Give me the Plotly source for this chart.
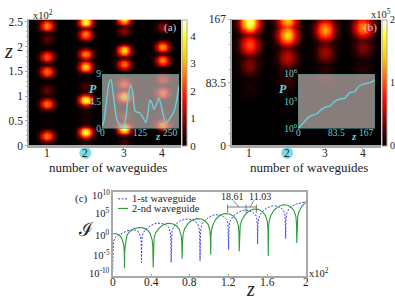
import numpy as np
import plotly.graph_objects as go

W, H = 395, 302
FONT = "Liberation Serif"
TEAL = "#66d2d9"
AXC = "#a8a8a8"

# Panel (a): bright spots, (z, intensity) per waveguide
a_peaks = {
    1: [(2.43, 3.0), (2.14, 0.7), (1.79, 2.5), (1.49, 2.8), (1.13, 0.8), (0.84, 2.8), (0.47, 0.1), (0.19, 2.8)],
    2: [(2.50, 4.2), (2.25, 2.8), (1.85, 2.8), (1.59, 3.5), (1.19, 0.6), (0.93, 4.3), (0.69, 0.3), (0.52, 0.3), (0.28, 4.2), (0.05, 0.4)],
    3: [(2.54, 3.6), (2.32, 1.0), (1.93, 3.6), (1.66, 2.6), (1.26, 2.2), (1.00, 3.7), (0.60, 1.0), (0.34, 4.5), (0.08, 0.5)],
    4: [(2.40, 1.0), (2.01, 3.0), (1.72, 2.8), (1.34, 1.6), (1.07, 2.6), (0.67, 0.4), (0.42, 3.0)],
}
# Panel (b): bright spots, (z, intensity) per waveguide
b_peaks = {
    1: [(163, 1.95), (135, 1.0), (107, 0.4), (78, 0.1)],
    2: [(170, 1.4), (148, 1.5), (118, 0.6), (88, 0.2), (60, 0.03)],
    3: [(152, 1.3), (122, 0.5), (92, 0.2)],
    4: [(158, 1.2), (129, 0.4), (100, 0.15)],
}
# Spot fall-off per grid cell away from its centre
fall_x = [1, .93, .78, .58, .38, .22, .11, .05, .02]
fall_z = [1, .95, .82, .63, .42, .24, .12, .05, .02]

# Tick labels
wave_ticks = [1, 2, 3, 4]
c_x_ticks = [0, .4, .8, 1.2, 1.6, 2]
c_x_text = ["0", "0.4", "0.8", "1.2", "1.6", "2"]
c_y_ticks = [1e-10, 1e-5, 1, 1e5, 1e10]
c_y_text = ["10<sup>-10</sup>", "10<sup>-5</sup>", "10<sup>0</sup>", "10<sup>5</sup>", "10<sup>10</sup>"]

# Inset of (a)
inset_a_z = [0, 6, 11, 17, 23, 29, 35, 42, 50, 60, 69, 78, 85, 93, 100, 107, 114, 122, 134, 142, 149, 156, 162, 169, 176, 184, 192, 199, 208, 218, 231, 240, 250]
inset_a_p = [0.4, 1.2, 3.0, 5.5, 7.6, 8.1, 6.2, 3.4, 1.2, 0.5, 0.2, 2.0, 5.2, 7.2, 5.8, 3.0, 2.7, 2.6, 1.7, 1.0, 2.5, 4.7, 4.2, 3.2, 3.9, 5.0, 3.8, 2.2, 0.9, 1.5, 2.5, 4.0, 7.2]
# Inset of (b), log10 of P
inset_b_z = [0, 14.5, 25, 40, 51, 62, 69, 80, 91, 102, 112, 123, 131, 145, 154, 167]
inset_b_logp = [0, 0.78, 1.34, 1.6, 2.1, 2.4, 2.47, 3.0, 3.25, 3.35, 3.95, 4.06, 4.6, 4.94, 5.0, 5.37]

# Panel (c), log10 of intensity
blue_z = [0, .002, .01, .03, .06, .1, .15, .2, .24, .27, .29, .297, .3, .303, .31, .33, .36, .4, .45, .5, .55, .58, .597, .603, .606,
          .609, .615, .63, .66, .7, .755, .81, .85, .88, .895, .902, .905, .908, .915, .93, .96, 1.0, 1.05, 1.1, 1.15, 1.18, 1.193, 1.197, 1.2,
          1.203, 1.21, 1.23, 1.26, 1.3, 1.35, 1.4, 1.45, 1.48, 1.492, 1.497, 1.5, 1.503, 1.51, 1.53, 1.56, 1.6, 1.65, 1.7, 1.74, 1.77, 1.783, 1.787, 1.79,
          1.793, 1.8, 1.82, 1.85, 1.9, 1.95, 2]
blue_log = [-10, -4, -1.8, -.8, -.3, .1, .7, .9, .85, .4, -.6, -2, -6.8, -2, -.3, .7, 1.4, 2.0, 2.5, 2.5, 2.2, 1.6, .4, -1.2, -6.8,
            -1, .6, 1.6, 2.4, 3.1, 3.5, 3.4, 3.0, 2.4, 1.4, -.4, -6.4, -.4, 1.4, 2.5, 3.3, 4.0, 4.5, 4.5, 4.1, 3.4, 2.5, .8, -3.7,
            1, 2.7, 3.6, 4.5, 5.1, 5.6, 5.6, 5.1, 4.5, 3.6, 2, -2.4, 2.2, 3.7, 4.7, 5.5, 6.2, 6.6, 6.6, 6.2, 5.5, 4.6, 3, -1.1,
            3.2, 4.8, 5.8, 6.5, 7.1, 7.4, 7.6]
green_z = [0, .04, .07, .09, .105, .118, .122, .124, .126, .13, .14, .15, .18, .22, .27, .32, .36, .39, .41, .417, .42,
           .423, .43, .445, .48, .52, .57, .62, .66, .69, .71, .716, .72, .724, .73, .745, .78, .82, .87, .92, .96, .99, 1.008, 1.012, 1.015,
           1.018, 1.025, 1.04, 1.07, 1.11, 1.16, 1.21, 1.25, 1.28, 1.3, 1.307, 1.31, 1.313, 1.32, 1.335, 1.37, 1.41, 1.46, 1.51, 1.55, 1.58, 1.6, 1.607, 1.61,
           1.613, 1.62, 1.635, 1.67, 1.71, 1.76, 1.81, 1.85, 1.88, 1.897, 1.902, 1.904, 1.907, 1.915, 1.93, 1.96, 2]
green_log = [0, 0, -.3, -.9, -1.7, -3, -4.5, -8.2, -4.5, -3, -1.6, -.3, .6, 1.2, 1.5, 1.4, .9, .1, -1.5, -3, -8,
             -3, -1, .2, 1.3, 2.1, 2.5, 2.4, 1.9, 1.1, -.4, -2, -5.9, -1.8, -.1, 1.2, 2.4, 3.2, 3.6, 3.5, 3, 2.2, .7, -1, -4.9,
             -.4, 1, 2.3, 3.5, 4.4, 4.8, 4.7, 4.2, 3.4, 2, .2, -4.2, .5, 2, 3.2, 4.5, 5.4, 5.9, 5.8, 5.2, 4.4, 3, 1, -5.3,
             1.5, 3, 4.3, 5.6, 6.4, 6.9, 6.8, 6.2, 5.3, 3.9, 2, -2.2, 2.5, 4.2, 5.4, 6.6, 7.6]
legend_names = ["1-st waveguide", "2-nd waveguide"]
bracket_z = [1.19, 1.38, 1.487]
bracket_labels = ["18.61", "11.03"]


def field(peaks, xs, zs):
    m = np.zeros((len(zs), len(xs)))
    for col, spots in peaks.items():
        ci = int(np.argmin(np.abs(xs - col)))
        for zc, val in spots:
            zi = int(np.argmin(np.abs(zs - zc)))
            for dz, fz in enumerate(fall_z):
                for dx_, fx in enumerate(fall_x):
                    for r in {zi - dz, zi + dz}:
                        for c in {ci - dx_, ci + dx_}:
                            if 0 <= r < len(zs) and 0 <= c < len(xs):
                                m[r, c] = max(m[r, c], val * fz * fx)
    return m


HOT = [[0, "#000000"], [0.08, "#2a0000"], [0.38, "#ff0a00"], [0.7, "#ffc800"], [0.88, "#ffff30"], [1, "#ffffff"]]


def dx(l, r):
    return [l / W, r / W]


def dy(t, b):
    return [1 - b / H, 1 - t / H]


fig = go.Figure()

ax_a = np.arange(0.5, 4.5 + 1e-6, 1 / 24)
az_a = np.arange(0, 2.575, 0.025)
fig.add_trace(go.Heatmap(x=ax_a, y=az_a, z=field(a_peaks, ax_a, az_a), colorscale=HOT, zmin=0, zmax=4.6, zsmooth="best",
                         xaxis="x", yaxis="y",
                         colorbar=dict(x=182 / W, xanchor="left", y=1 - 145 / H, yanchor="bottom", len=132 / H, lenmode="fraction",
                                       thickness=5, outlinecolor=AXC, outlinewidth=1, tickvals=[0, 1, 2, 3, 4], ticks="",
                                       tickfont=dict(family=FONT, size=11, color="#222"), xpad=0, ypad=0)))
ax_b = np.arange(0.5, 4.5 + 1e-6, 1 / 16)
az_b = np.arange(0, 170.1, 3.34)
fig.add_trace(go.Heatmap(x=ax_b, y=az_b, z=field(b_peaks, ax_b, az_b), colorscale=HOT, zmin=0, zmax=2, zsmooth="best",
                         xaxis="x2", yaxis="y2",
                         colorbar=dict(x=382 / W, xanchor="left", y=1 - 145 / H, yanchor="bottom", len=132 / H, lenmode="fraction",
                                       thickness=5, outlinecolor=AXC, outlinewidth=1, tickvals=[0, 1, 2], ticks="",
                                       tickfont=dict(family=FONT, size=10, color="#222"), xpad=0, ypad=0)))

fig.add_trace(go.Scatter(x=blue_z, y=[10.0 ** v for v in blue_log], mode="lines", name=legend_names[0], xaxis="x3", yaxis="y3",
                         showlegend=False, line=dict(color="#3a3ae8", width=1, dash="2px,1.5px")))
fig.add_trace(go.Scatter(x=green_z, y=[10.0 ** v for v in green_log], mode="lines", name=legend_names[1], xaxis="x3", yaxis="y3",
                         showlegend=False, line=dict(color="#2e9a3a", width=1.1)))

# Inset panels
PANEL = "rgba(205,190,185,0.66)"
fig.add_trace(go.Scatter(x=[0, 250, 250, 0, 0], y=[0, 0, 9, 9, 0], fill="toself", fillcolor=PANEL, mode="lines",
                         line=dict(color="#3f8f96", width=1), xaxis="x4", yaxis="y4", showlegend=False, hoverinfo="skip"))
fig.add_trace(go.Scatter(x=inset_a_z, y=inset_a_p, mode="lines", line=dict(color=TEAL, width=1.4, shape="spline", smoothing=0.8),
                         xaxis="x4", yaxis="y4", showlegend=False))
fig.add_trace(go.Scatter(x=[0, 167, 167, 0, 0], y=[0, 0, 6, 6, 0], fill="toself", fillcolor=PANEL, mode="lines",
                         line=dict(color="#3f8f96", width=1), xaxis="x5", yaxis="y5", showlegend=False, hoverinfo="skip"))
fig.add_trace(go.Scatter(x=inset_b_z, y=inset_b_logp, mode="lines", line=dict(color=TEAL, width=1.4, shape="spline", smoothing=0.8),
                         xaxis="x5", yaxis="y5", showlegend=False))

tf = dict(family=FONT, size=11.5, color="#222")
base = dict(showgrid=False, zeroline=False, showline=True, linecolor=AXC, linewidth=1.5, tickfont=tf, ticks="outside",
            ticklen=2, tickcolor=AXC, tickwidth=1)
inset_tf = dict(family=FONT, size=9.5, color=TEAL)
inset_ax = dict(showgrid=False, zeroline=False, showline=False, tickfont=inset_tf, ticks="", layer="above traces")

fig.update_layout(
    width=W, height=H, margin=dict(l=0, r=0, t=0, b=0), paper_bgcolor="white", plot_bgcolor="rgba(0,0,0,0)",
    showlegend=False,
    xaxis=dict(base, domain=dx(29, 181), range=[0.54, 4.48], tickvals=wave_ticks, showticklabels=False, anchor="y"),
    yaxis=dict(base, domain=dy(13, 145), range=[0, 2.55], tickvals=[0, .5, 1, 1.5, 2, 2.5], ticktext=["0", "0.5", "1", "1.5", "2", "2.5"],
               anchor="x", minor=dict(dtick=0.1, ticks="outside", ticklen=1.5, tickcolor=AXC)),
    xaxis2=dict(base, domain=dx(232, 381), range=[0.54, 4.48], tickvals=wave_ticks, showticklabels=False, anchor="y2"),
    yaxis2=dict(base, domain=dy(13, 145), range=[0, 167], tickvals=[0, 83.5, 167], ticktext=["0", "83.5", "167"], anchor="x2",
                minor=dict(dtick=16.7, ticks="outside", ticklen=1.5, tickcolor=AXC)),
    xaxis3=dict(domain=dx(112.5, 306), range=[0, 2], tickvals=c_x_ticks, showticklabels=False,
                showgrid=False, zeroline=False, showline=True, mirror=True, linecolor=AXC, linewidth=1.5, ticks="inside", ticklen=2, tickcolor=AXC, anchor="y3"),
    yaxis3=dict(domain=dy(193, 281), type="log", range=[-10, 10], tickvals=c_y_ticks, showticklabels=False,
                showgrid=False, zeroline=False, showline=True, mirror=True, linecolor=AXC, linewidth=1.5, ticks="", anchor="x3"),
    xaxis4=dict(inset_ax, domain=dx(102, 179), range=[0, 250], tickvals=[0, 125], showticklabels=False, anchor="y4"),
    yaxis4=dict(inset_ax, domain=dy(70, 127), range=[0, 9], tickvals=[0, 4.5, 9], ticktext=["0", "4.5", "9"], anchor="x4"),
    xaxis5=dict(inset_ax, domain=dx(298, 375), range=[0, 167], tickvals=[0, 83.5], showticklabels=False, anchor="y5"),
    yaxis5=dict(inset_ax, domain=dy(70, 127), range=[0, 6], tickvals=[0, 3, 6], ticktext=["10<sup>0</sup>", "10<sup>3</sup>", "10<sup>6</sup>"], anchor="x5"),
)


def label(px, py, text, size=11, color="#222", xanchor="center"):
    fig.add_annotation(x=px / W, y=1 - py / H, xref="paper", yref="paper", text=text, showarrow=False, xanchor=xanchor, yanchor="middle",
                       font=dict(family=FONT, size=size, color=color), borderpad=0)


def xtick(xref, val, py, text, size=11.5, color="#222"):
    fig.add_annotation(x=val, y=1 - py / H, xref=xref, yref="paper", text=text, showarrow=False, xanchor="center", yanchor="middle",
                       font=dict(family=FONT, size=size, color=color), borderpad=0)


for xa in ("x", "x2"):
    for v in wave_ticks:
        xtick(xa, v, 153, str(v))
for v, t in zip(c_x_ticks, c_x_text):
    xtick("x3", v, 287, t)
xtick("x4", 0, 132, "0", 9.5, TEAL)
xtick("x4", 125, 132, "125", 9.5, TEAL)
xtick("x5", 0, 132, "0", 9.5, TEAL)
xtick("x5", 83.5, 132, "83.5", 9.5, TEAL)
# y tick labels of (c): the two outer ones sit inside the axis ends
for py, t in zip([277, 258.5, 237.5, 215, 196], c_y_text):
    label(111, py, t, 10.5, xanchor="right")

label(108, 168, "number of waveguides", 13)
label(309, 168, "number of waveguides", 13)
label(43, 8, "x10<sup>2</sup>", 10.5)
label(381, 7, "x10<sup>5</sup>", 10.5)
label(319, 277, "x10<sup>2</sup>", 10.5)
label(8, 46, "<i>z</i>", 20)
label(250, 295, "<i>z</i>", 20)
label(86, 232, "ℐ", 19)
label(170, 21, "(a)", 11, "#cccccc")
label(370, 21, "(b)", 11, "#cccccc")
label(81, 200, "(c)", 11)
# inset labels
label(179, 132, "250", 9.5, TEAL, "right")
label(158, 135, "<b><i>z</i></b>", 11, TEAL)
label(93, 86, "<b><i>P</i></b>", 12, TEAL)
label(375, 132, "167", 9.5, TEAL, "right")
label(354, 135, "<b><i>z</i></b>", 11, TEAL)
label(283, 86, "<b><i>P</i></b>", 12, TEAL)
label(232, 198, bracket_labels[0], 10)
label(260, 198, bracket_labels[1], 10)
# legend of (c), drawn small as in the source figure
label(131, 200.5, legend_names[0], 10.5, xanchor="left")
label(131, 210.5, legend_names[1], 10.5, xanchor="left")
fig.add_shape(type="line", xref="paper", yref="paper", x0=118 / W, x1=128 / W, y0=1 - 200.5 / H, y1=1 - 200.5 / H,
              line=dict(color="#3a3ae8", width=1, dash="2px,1.5px"))
fig.add_shape(type="line", xref="paper", yref="paper", x0=118 / W, x1=128 / W, y0=1 - 210.5 / H, y1=1 - 210.5 / H,
              line=dict(color="#2e9a3a", width=1.1))

# highlighted tick "2" of both heatmaps
for xa in ("x", "x2"):
    fig.add_shape(type="circle", xref=xa, yref="paper", xsizemode="pixel", ysizemode="pixel", xanchor=2, yanchor=1 - 152.5 / H,
                  x0=-6, x1=6, y0=-6, y1=6, fillcolor="#7fdbe6", line=dict(width=0), layer="below")

# brackets of (c)
yb_top, yb_mid, yb_bot = 1 - 206.5 / H, 1 - 209 / H, 1 - 215 / H
for z in bracket_z:
    fig.add_shape(type="line", xref="x3", yref="paper", x0=z, x1=z, y0=yb_top, y1=yb_bot, line=dict(color="#555", width=0.8))
fig.add_shape(type="line", xref="x3", yref="paper", x0=bracket_z[0], x1=bracket_z[2], y0=yb_mid, y1=yb_mid, line=dict(color="#555", width=0.8))
fig.add_shape(type="line", xref="paper", yref="paper", x0=233 / W, x1=239 / W, y0=1 - 202 / H, y1=yb_mid, line=dict(color="#555", width=0.7))
fig.add_shape(type="line", xref="paper", yref="paper", x0=254 / W, x1=250 / W, y0=1 - 202 / H, y1=yb_mid, line=dict(color="#555", width=0.7))

fig.write_html("out.html", config=dict(displayModeBar=False),
               post_script="document.body.style.margin='0';document.body.style.overflow='hidden';")
